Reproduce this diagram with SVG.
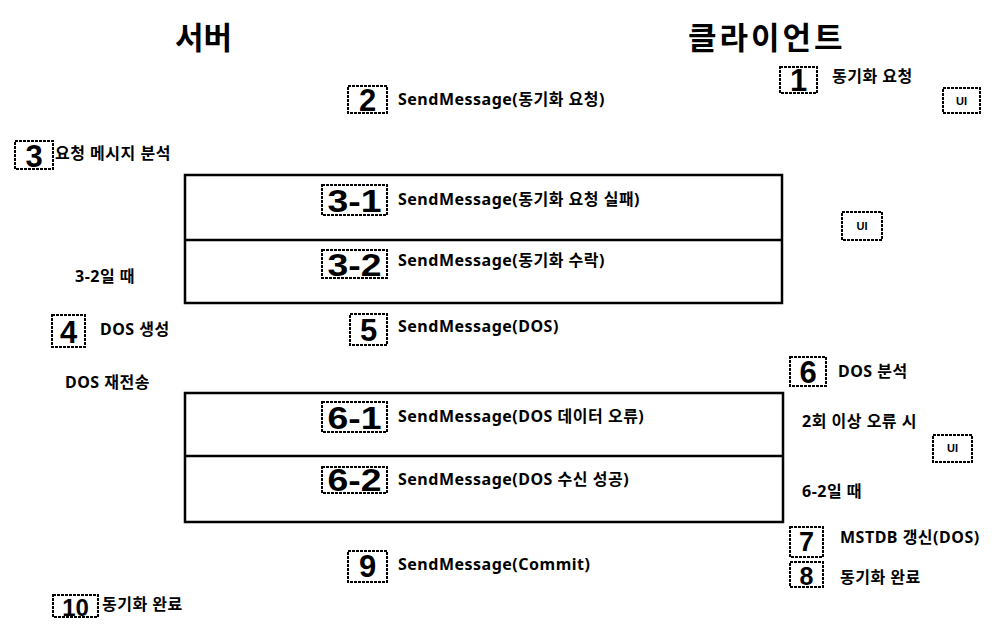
<svg xmlns="http://www.w3.org/2000/svg" width="1005" height="632" viewBox="0 0 1005 632">
<style>
  text { font-family: "Noto Sans", "Noto Sans CJK KR", sans-serif; font-weight: bold; fill: #000; }
  .t { font-size: 16px; letter-spacing: 0.5px; }
  .title { font-size: 31px; font-family: "Noto Sans CJK KR", sans-serif; }
  .nb { fill: #fff; stroke: #000; stroke-width: 2; stroke-dasharray: 3 1; }
  .num { font-family: "Liberation Sans", sans-serif; font-size: 31px; text-anchor: middle; }
  .ui { fill: #fff; stroke: #000; stroke-width: 2; stroke-dasharray: 3 1; }
  .uit { font-family: "Liberation Sans", sans-serif; font-size: 11px; text-anchor: middle; }
  .frame { fill: none; stroke: #000; stroke-width: 2.5; }
</style>
<rect width="1005" height="632" fill="#fff"/>

<g id="titles">
  <text class="title" x="175" y="49">서버</text>
  <text class="title" x="688" y="49" style="letter-spacing:3px">클라이언트</text>
</g>

<g id="connectors">
  <rect class="frame" x="185" y="175" width="597" height="128"/>
  <line class="frame" x1="185" y1="240" x2="782" y2="240"/>
  <rect class="frame" x="185" y="393" width="598" height="129"/>
  <line class="frame" x1="185" y1="456" x2="783" y2="456"/>
</g>

<g id="step1">
  <rect class="nb" x="780" y="67" width="37" height="26"/>
  <text class="num" x="798.5" y="91">1</text>
  <text class="t" x="832" y="82">동기화 요청</text>
</g>
<g id="ui1">
  <rect class="ui" x="943" y="88" width="37" height="25"/>
  <text class="uit" x="961.5" y="105">UI</text>
</g>

<g id="step2">
  <rect class="nb" x="348" y="86" width="39" height="27"/>
  <text class="num" x="367.5" y="111">2</text>
  <text class="t" x="398" y="105">SendMessage(동기화 요청)</text>
</g>

<g id="step3">
  <rect class="nb" x="15" y="141" width="38" height="28"/>
  <text class="num" x="34" y="167">3</text>
  <text class="t" x="55" y="159">요청 메시지 분석</text>
</g>

<g id="step3-1">
  <rect class="nb" x="322" y="185" width="65" height="30"/>
  <text class="num" x="354.5" y="212" textLength="54" lengthAdjust="spacingAndGlyphs">3-1</text>
  <text class="t" x="398" y="205">SendMessage(동기화 요청 실패)</text>
</g>

<g id="ui2">
  <rect class="ui" x="842" y="212" width="40" height="28"/>
  <text class="uit" x="862" y="230">UI</text>
</g>

<g id="step3-2">
  <rect class="nb" x="322" y="250" width="65" height="28"/>
  <text class="num" x="354.5" y="276" textLength="54" lengthAdjust="spacingAndGlyphs">3-2</text>
  <text class="t" x="398" y="266">SendMessage(동기화  수락)</text>
</g>

<g id="cond32">
  <text class="t" x="75" y="282">3-2일 때</text>
</g>

<g id="step4">
  <rect class="nb" x="52" y="315" width="33" height="32"/>
  <text class="num" x="68.5" y="343">4</text>
  <text class="t" x="100" y="335">DOS 생성</text>
</g>

<g id="step5">
  <rect class="nb" x="350" y="314" width="37" height="31"/>
  <text class="num" x="368.5" y="341">5</text>
  <text class="t" x="398" y="332">SendMessage(DOS)</text>
</g>

<g id="step6">
  <rect class="nb" x="790" y="357" width="36" height="29"/>
  <text class="num" x="808" y="383">6</text>
  <text class="t" x="838" y="377">DOS 분석</text>
</g>

<g id="resend">
  <text class="t" x="65" y="388">DOS 재전송</text>
</g>

<g id="step6-1">
  <rect class="nb" x="322" y="402" width="65" height="30"/>
  <text class="num" x="354.5" y="429" textLength="54" lengthAdjust="spacingAndGlyphs">6-1</text>
  <text class="t" x="398" y="422">SendMessage(DOS 데이터 오류)</text>
</g>

<g id="err2">
  <text class="t" x="802" y="427">2회 이상 오류 시</text>
</g>
<g id="ui3">
  <rect class="ui" x="933" y="435" width="39" height="27"/>
  <text class="uit" x="952.5" y="452">UI</text>
</g>

<g id="step6-2">
  <rect class="nb" x="322" y="467" width="65" height="26"/>
  <text class="num" x="354.5" y="491" textLength="54" lengthAdjust="spacingAndGlyphs">6-2</text>
  <text class="t" x="398" y="485">SendMessage(DOS 수신 성공)</text>
</g>

<g id="cond62">
  <text class="t" x="802" y="497">6-2일 때</text>
</g>

<g id="step7">
  <rect class="nb" x="790" y="527" width="33" height="30"/>
  <text class="num" x="806.5" y="551" style="font-size:27px">7</text>
  <text class="t" x="840" y="543">MSTDB 갱신(DOS)</text>
</g>

<g id="step8">
  <rect class="nb" x="790" y="562" width="33" height="25"/>
  <text class="num" x="806.5" y="585" style="font-size:25px">8</text>
  <text class="t" x="840" y="583">동기화 완료</text>
</g>

<g id="step9">
  <rect class="nb" x="348" y="551" width="39" height="31"/>
  <text class="num" x="367.5" y="577">9</text>
  <text class="t" x="398" y="570">SendMessage(Commit)</text>
</g>

<g id="step10">
  <rect class="nb" x="53" y="595" width="45" height="22"/>
  <text class="num" x="75.5" y="616" style="font-size:24px">10</text>
  <text class="t" x="102" y="610">동기화 완료</text>
</g>
</svg>
